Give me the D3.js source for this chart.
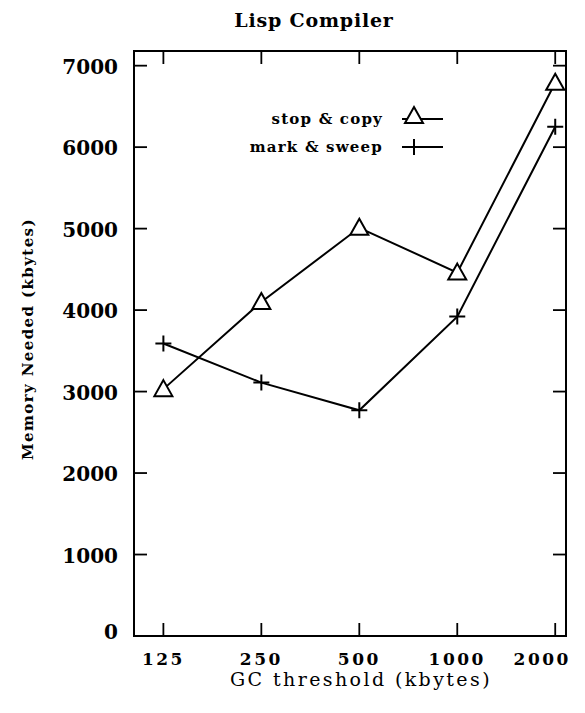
<!DOCTYPE html>
<html>
<head>
<meta charset="utf-8">
<script src="https://cdn.jsdelivr.net/npm/d3@7"></script>
<style>
  html, body { margin: 0; padding: 0; background: #fff; }
  svg { display: block; }
</style>
</head>
<body>
<script>
// GC thresholds (kbytes) and memory needed (kbytes) per collector
const thresholds = [125, 250, 500, 1000, 2000];
const stopCopy   = [3030, 4100, 5010, 4460, 6790];
const markSweep  = [3590, 3110, 2770, 3920, 6250];
const yTicks     = [0, 1000, 2000, 3000, 4000, 5000, 6000, 7000];
const seriesNames = ["stop & copy", "mark & sweep"];

const W = 585, H = 713;
const frame = { left: 134, right: 566, top: 51, bottom: 636 };
const serif = "'DejaVu Serif', 'Liberation Serif', serif";

const svg = d3.select("body").append("svg")
  .attr("width", W).attr("height", H);

// thresholds double each step, so a base-2 log scale spaces them evenly
const x = d3.scaleLog().base(2)
  .domain([125 * Math.pow(2, -0.3), 2000 * Math.pow(2, 0.11)])
  .range([frame.left, frame.right]);
const y = d3.scaleLinear()
  .domain([0, 7180])
  .range([frame.bottom, frame.top]);

const tickLen = 13;

// plot frame
svg.append("rect")
  .attr("x", frame.left).attr("y", frame.top)
  .attr("width", frame.right - frame.left)
  .attr("height", frame.bottom - frame.top)
  .attr("fill", "none").attr("stroke", "#000").attr("stroke-width", 2);

// inward ticks on all four sides
const ticks = svg.append("g").attr("stroke", "#000").attr("stroke-width", 1.8);
yTicks.forEach(v => {
  if (v === 0) return;
  ticks.append("line").attr("x1", frame.left).attr("x2", frame.left + tickLen)
    .attr("y1", y(v)).attr("y2", y(v));
  ticks.append("line").attr("x1", frame.right).attr("x2", frame.right - tickLen)
    .attr("y1", y(v)).attr("y2", y(v));
});
thresholds.forEach(t => {
  ticks.append("line").attr("x1", x(t)).attr("x2", x(t))
    .attr("y1", frame.bottom).attr("y2", frame.bottom - tickLen);
  ticks.append("line").attr("x1", x(t)).attr("x2", x(t))
    .attr("y1", frame.top).attr("y2", frame.top + tickLen);
});

// y tick labels
svg.append("g").selectAll("text").data(yTicks).join("text")
  .attr("x", 118).attr("y", d => y(d) + (d === 0 ? 3 : 8))
  .attr("text-anchor", "end")
  .attr("font-family", serif).attr("font-weight", "bold")
  .attr("font-size", 20)
  .text(d => d);

// x tick labels (the last one is pulled in to stay on the page)
svg.append("g").selectAll("text").data(thresholds).join("text")
  .attr("x", (d, i) => x(d) + (i === thresholds.length - 1 ? -13 : 0))
  .attr("y", 665)
  .attr("text-anchor", "middle")
  .attr("font-family", serif).attr("font-weight", "bold")
  .attr("font-size", 17).attr("letter-spacing", 2.5)
  .text(d => d);

// axis titles and chart title
svg.append("text")
  .attr("x", 361).attr("y", 686)
  .attr("text-anchor", "middle")
  .attr("font-family", serif).attr("font-size", 19)
  .attr("letter-spacing", 2.4)
  .text("GC threshold (kbytes)");

svg.append("text")
  .attr("transform", "translate(33,339) rotate(-90)")
  .attr("text-anchor", "middle")
  .attr("font-family", serif).attr("font-weight", "bold")
  .attr("font-size", 15).attr("letter-spacing", 1.4)
  .text("Memory Needed (kbytes)");

svg.append("text")
  .attr("x", 314).attr("y", 27)
  .attr("text-anchor", "middle")
  .attr("font-family", serif).attr("font-weight", "bold")
  .attr("font-size", 19).attr("letter-spacing", 0.8)
  .text("Lisp Compiler");

// series lines
const line = d3.line()
  .x((d, i) => x(thresholds[i]))
  .y(d => y(d));

[stopCopy, markSweep].forEach(vals => {
  svg.append("path").datum(vals)
    .attr("d", line)
    .attr("fill", "none").attr("stroke", "#000").attr("stroke-width", 2);
});

// point markers
const triangle = (g, cx, cy) => g.append("path")
  .attr("d", `M${cx},${cy - 9}L${cx + 9},${cy + 7}L${cx - 9},${cy + 7}Z`)
  .attr("fill", "#fff").attr("stroke", "#000").attr("stroke-width", 2);
const plus = (g, cx, cy) => g.append("path")
  .attr("d", `M${cx - 8},${cy}H${cx + 8}M${cx},${cy - 8}V${cy + 8}`)
  .attr("stroke", "#000").attr("stroke-width", 2);

const marks = svg.append("g");
stopCopy.forEach((v, i) => triangle(marks, x(thresholds[i]), y(v)));
markSweep.forEach((v, i) => plus(marks, x(thresholds[i]), y(v)));

// legend
const legend = svg.append("g");
const legendRows = [
  { name: seriesNames[0], ty: 124, ly: 119, draw: triangle },
  { name: seriesNames[1], ty: 152, ly: 147, draw: plus }
];
legendRows.forEach(r => {
  legend.append("text")
    .attr("x", 383).attr("y", r.ty)
    .attr("text-anchor", "end")
    .attr("font-family", serif).attr("font-weight", "bold")
    .attr("font-size", 15).attr("letter-spacing", 1.2)
    .text(r.name);
  legend.append("line")
    .attr("x1", 402).attr("x2", 443)
    .attr("y1", r.ly).attr("y2", r.ly)
    .attr("stroke", "#000").attr("stroke-width", 2);
  r.draw(legend, 414, r.ly - (r.draw === triangle ? 3 : 0));
});
</script>
</body>
</html>
